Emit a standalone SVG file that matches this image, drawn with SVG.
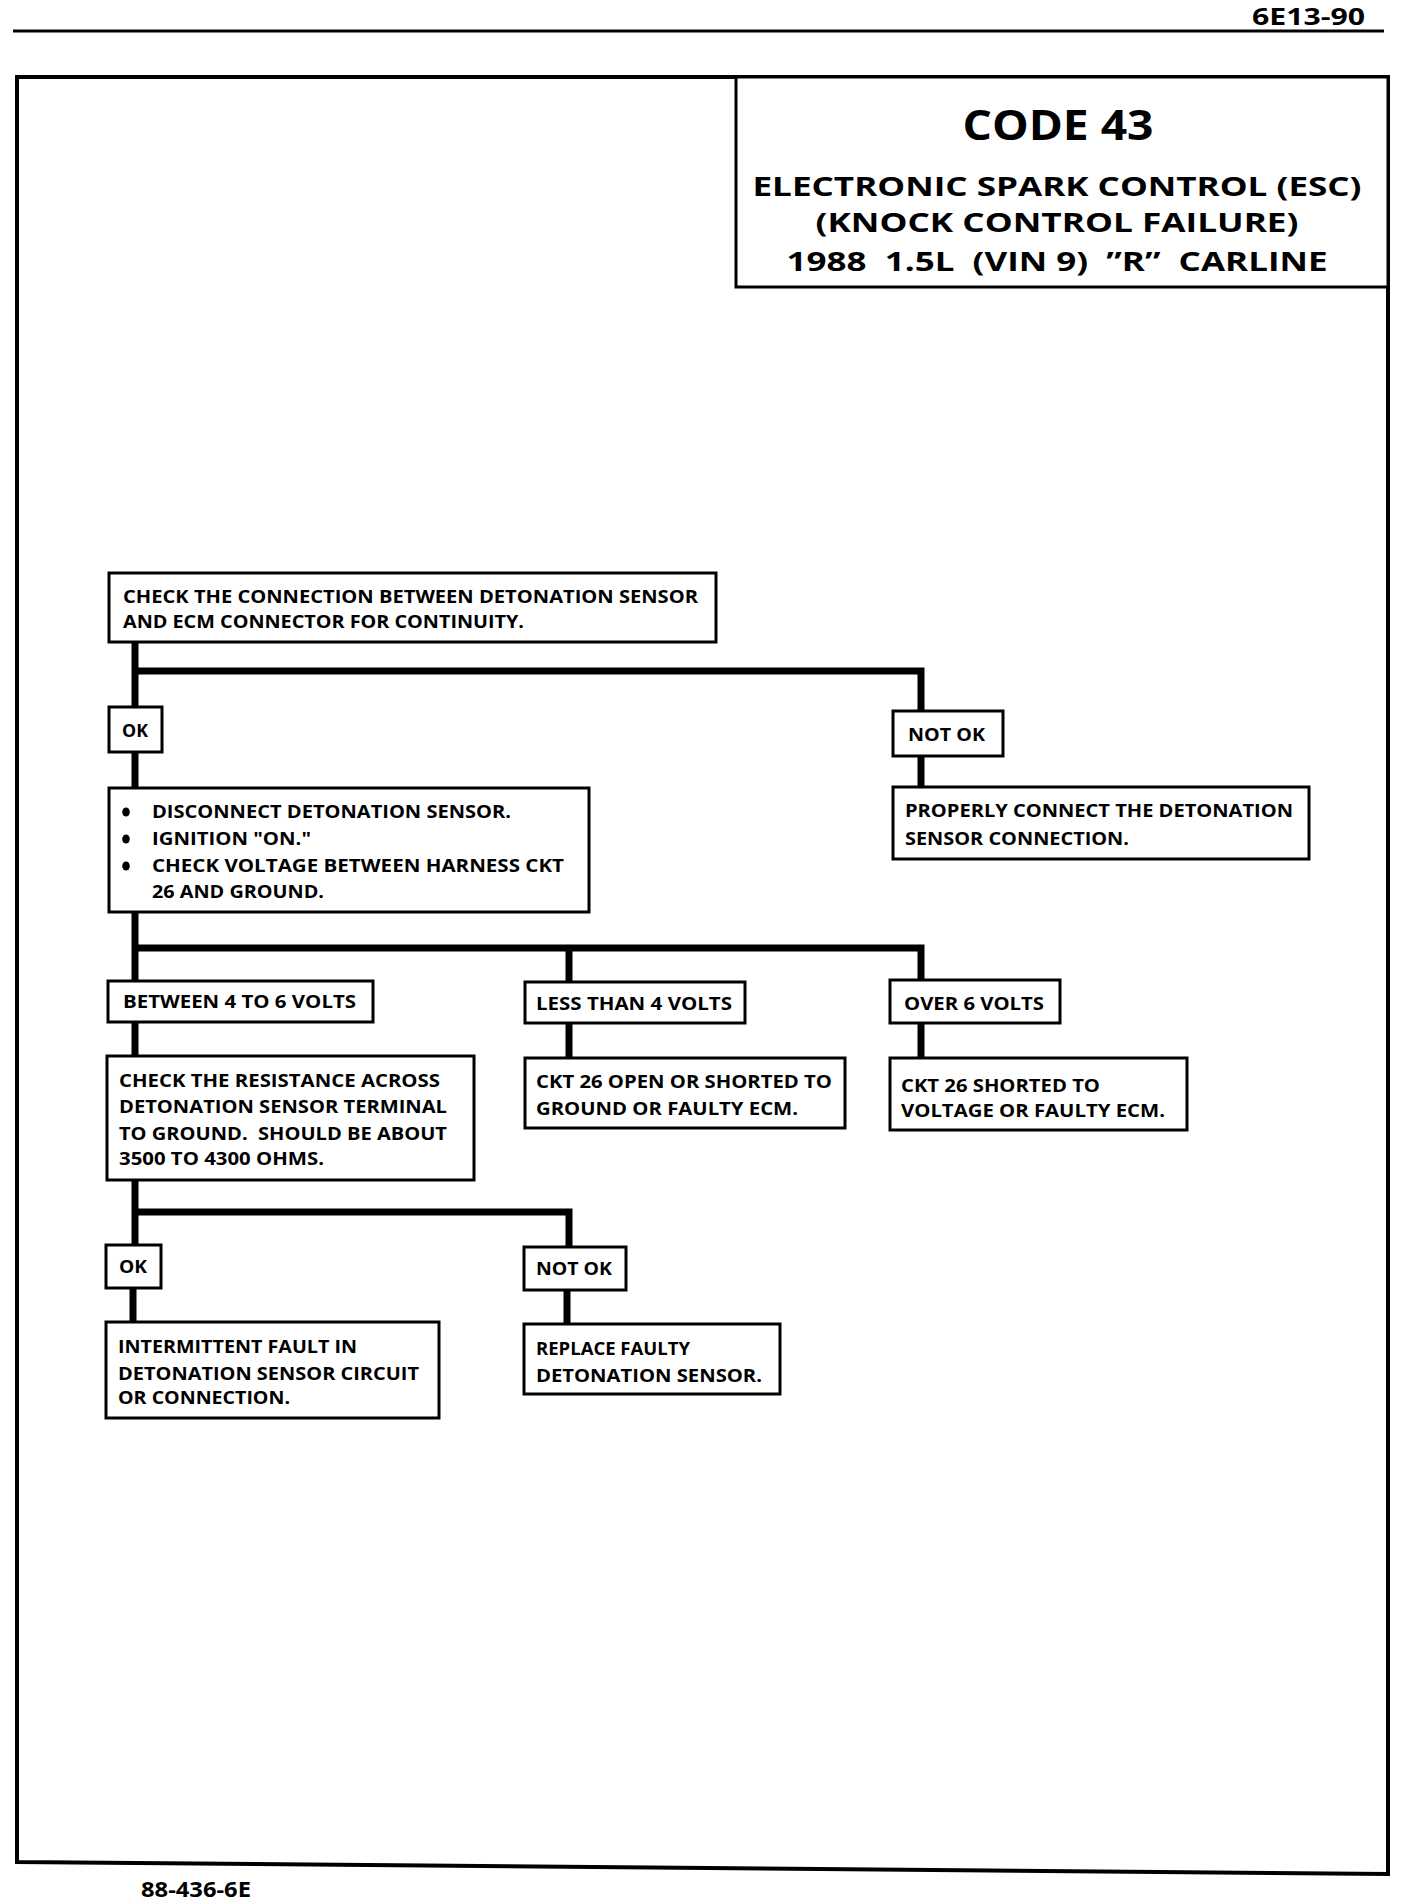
<svg xmlns="http://www.w3.org/2000/svg" width="1408" height="1904" viewBox="0 0 1408 1904">
<style>
text{font-family:"Open Sans","Noto Sans","DejaVu Sans",sans-serif;font-weight:700;fill:#000}
.t{font-size:17.5px}
.box{fill:#fff;stroke:#000;stroke-width:3}
.con{fill:none;stroke:#000;stroke-width:7;stroke-linejoin:miter;stroke-linecap:butt}
.frame{fill:none;stroke:#000;stroke-width:4}
.ttl{font-size:27px}
</style>
<rect width="1408" height="1904" fill="#fff"/>
<g id="page">
<text x="1365" y="25" font-size="23" text-anchor="end" textLength="113" lengthAdjust="spacingAndGlyphs">6E13-90</text>
<line x1="13" y1="31" x2="1384" y2="31" stroke="#000" stroke-width="3"/>
<path class="frame" d="M17 77 L1388 77 L1388 1874 L17 1862 Z"/>
<text x="141" y="1897" font-size="22" textLength="110" lengthAdjust="spacingAndGlyphs">88-436-6E</text>
</g>
<g id="title">
<rect class="box" x="736" y="77" width="652" height="210"/>
<text x="1058" y="140" font-size="42" text-anchor="middle" textLength="191" lengthAdjust="spacingAndGlyphs">CODE 43</text>
<text class="ttl" x="1057" y="196" text-anchor="middle" textLength="609" lengthAdjust="spacingAndGlyphs">ELECTRONIC SPARK CONTROL (ESC)</text>
<text class="ttl" x="1057" y="232" text-anchor="middle" textLength="483" lengthAdjust="spacingAndGlyphs">(KNOCK CONTROL FAILURE)</text>
<text class="ttl" x="1057" y="271" text-anchor="middle" textLength="541" lengthAdjust="spacingAndGlyphs" xml:space="preserve">1988  1.5L  (VIN 9)  ”R”  CARLINE</text>
</g>
<g id="connectors">
<path class="con" d="M135 642 V707 M135 671 H921 V711"/>
<path class="con" d="M135 752 V788 M921 756 V787"/>
<path class="con" d="M135 912 V981 M135 948 H921 V980 M569 948 V982"/>
<path class="con" d="M135 1022 V1056 M569 1023 V1058 M921 1023 V1058"/>
<path class="con" d="M135 1180 V1245 M135 1212 H569 V1247"/>
<path class="con" d="M133 1288 V1322 M567 1290 V1324"/>
</g>
<g id="n1">
<rect class="box" x="109" y="573" width="607" height="69"/>
<text class="t" x="123" y="603" textLength="575" lengthAdjust="spacingAndGlyphs">CHECK THE CONNECTION BETWEEN DETONATION SENSOR</text>
<text class="t" x="123" y="628" textLength="401" lengthAdjust="spacingAndGlyphs">AND ECM CONNECTOR FOR CONTINUITY.</text>
</g>
<g id="ok1">
<rect class="box" x="109" y="707" width="53" height="45"/>
<text class="t" x="122" y="737" textLength="26" lengthAdjust="spacingAndGlyphs">OK</text>
</g>
<g id="notok1">
<rect class="box" x="893" y="711" width="110" height="45"/>
<text class="t" x="908" y="741" textLength="77" lengthAdjust="spacingAndGlyphs">NOT OK</text>
</g>
<g id="n2">
<rect class="box" x="109" y="788" width="480" height="124"/>
<ellipse cx="126" cy="812" rx="3.8" ry="4.5"/>
<ellipse cx="126" cy="839" rx="3.8" ry="4.5"/>
<ellipse cx="126" cy="866" rx="3.8" ry="4.5"/>
<text class="t" x="152" y="818" textLength="359" lengthAdjust="spacingAndGlyphs">DISCONNECT DETONATION SENSOR.</text>
<text class="t" x="152" y="845" textLength="159" lengthAdjust="spacingAndGlyphs">IGNITION "ON."</text>
<text class="t" x="152" y="872" textLength="412" lengthAdjust="spacingAndGlyphs">CHECK VOLTAGE BETWEEN HARNESS CKT</text>
<text class="t" x="152" y="898" textLength="172" lengthAdjust="spacingAndGlyphs">26 AND GROUND.</text>
</g>
<g id="n3">
<rect class="box" x="893" y="787" width="416" height="72"/>
<text class="t" x="905" y="817" textLength="388" lengthAdjust="spacingAndGlyphs">PROPERLY CONNECT THE DETONATION</text>
<text class="t" x="905" y="845" textLength="224" lengthAdjust="spacingAndGlyphs">SENSOR CONNECTION.</text>
</g>
<g id="between">
<rect class="box" x="108" y="981" width="265" height="41"/>
<text class="t" x="123" y="1008" textLength="233" lengthAdjust="spacingAndGlyphs">BETWEEN 4 TO 6 VOLTS</text>
</g>
<g id="less">
<rect class="box" x="525" y="982" width="220" height="41"/>
<text class="t" x="536" y="1010" textLength="196" lengthAdjust="spacingAndGlyphs">LESS THAN 4 VOLTS</text>
</g>
<g id="over">
<rect class="box" x="890" y="980" width="170" height="43"/>
<text class="t" x="904" y="1010" textLength="140" lengthAdjust="spacingAndGlyphs">OVER 6 VOLTS</text>
</g>
<g id="n4">
<rect class="box" x="107" y="1056" width="367" height="124"/>
<text class="t" x="119" y="1087" textLength="321" lengthAdjust="spacingAndGlyphs">CHECK THE RESISTANCE ACROSS</text>
<text class="t" x="119" y="1113" textLength="328" lengthAdjust="spacingAndGlyphs">DETONATION SENSOR TERMINAL</text>
<text class="t" x="119" y="1140" textLength="328" lengthAdjust="spacingAndGlyphs" xml:space="preserve">TO GROUND.  SHOULD BE ABOUT</text>
<text class="t" x="119" y="1165" textLength="205" lengthAdjust="spacingAndGlyphs">3500 TO 4300 OHMS.</text>
</g>
<g id="n5">
<rect class="box" x="525" y="1058" width="320" height="70"/>
<text class="t" x="536" y="1088" textLength="296" lengthAdjust="spacingAndGlyphs">CKT 26 OPEN OR SHORTED TO</text>
<text class="t" x="536" y="1115" textLength="262" lengthAdjust="spacingAndGlyphs">GROUND OR FAULTY ECM.</text>
</g>
<g id="n6">
<rect class="box" x="890" y="1058" width="297" height="72"/>
<text class="t" x="901" y="1092" textLength="199" lengthAdjust="spacingAndGlyphs">CKT 26 SHORTED TO</text>
<text class="t" x="901" y="1117" textLength="264" lengthAdjust="spacingAndGlyphs">VOLTAGE OR FAULTY ECM.</text>
</g>
<g id="ok2">
<rect class="box" x="106" y="1245" width="55" height="43"/>
<text class="t" x="119" y="1273" textLength="28" lengthAdjust="spacingAndGlyphs">OK</text>
</g>
<g id="notok2">
<rect class="box" x="524" y="1247" width="102" height="43"/>
<text class="t" x="536" y="1275" textLength="76" lengthAdjust="spacingAndGlyphs">NOT OK</text>
</g>
<g id="n7">
<rect class="box" x="106" y="1322" width="333" height="96"/>
<text class="t" x="118" y="1353" textLength="239" lengthAdjust="spacingAndGlyphs">INTERMITTENT FAULT IN</text>
<text class="t" x="118" y="1380" textLength="301" lengthAdjust="spacingAndGlyphs">DETONATION SENSOR CIRCUIT</text>
<text class="t" x="118" y="1404" textLength="172" lengthAdjust="spacingAndGlyphs">OR CONNECTION.</text>
</g>
<g id="n8">
<rect class="box" x="524" y="1324" width="256" height="70"/>
<text class="t" x="536" y="1355" textLength="154" lengthAdjust="spacingAndGlyphs">REPLACE FAULTY</text>
<text class="t" x="536" y="1382" textLength="226" lengthAdjust="spacingAndGlyphs">DETONATION SENSOR.</text>
</g>
</svg>
